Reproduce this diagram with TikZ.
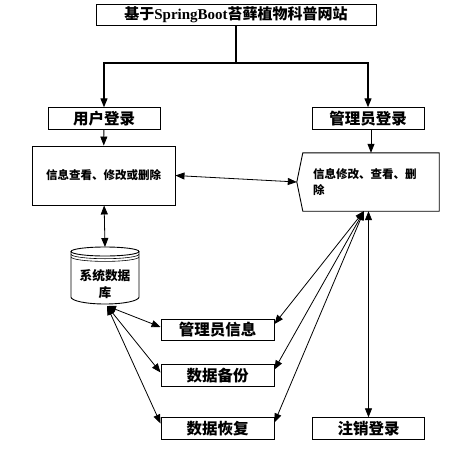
\documentclass[tikz,border=0pt]{standalone}
\usepackage{fontspec}
\setmainfont{Liberation Serif}
\newfontfamily\cjk{Noto Sans CJK SC}
\usetikzlibrary{arrows.meta}
\tikzset{
    boxline/.style={draw, line width=0.9pt},
    titlebox/.style={boxline, minimum width=280pt, minimum height=21pt, inner sep=0pt,
            font=\cjk\bfseries\fontsize{15pt}{17pt}\selectfont},
    smallbox/.style={boxline, minimum width=113pt, minimum height=21.5pt, inner sep=0pt,
            font=\cjk\bfseries\fontsize{15.5pt}{17pt}\selectfont},
    infotext/.style={font=\cjk\bfseries\fontsize{11.5pt}{16pt}\selectfont},
    tree/.style={line width=1.2pt, -{Triangle[length=9pt,width=7pt]}},
    link/.style={line width=0.8pt, {Triangle[length=9pt,width=7pt]}-{Triangle[length=9pt,width=7pt]}},
}
\begin{document}
\begin{tikzpicture}[x=1pt, y=-1pt]
        \useasboundingbox (0,0) rectangle (466,453);
        %draw title and the two logins
        \node[titlebox] (title) at (236,14.5) {基于{\rmfamily SpringBoot}苔藓植物科普网站};
        \node[smallbox, minimum width=112pt] (user) at (104,118.5) {用户登录};
        \node[smallbox, minimum width=112pt] (admin) at (368,118.5) {管理员登录};
        \coordinate (split) at (236,63);
        %draw the info boxes
        \node[boxline, infotext, minimum width=143pt, minimum height=59pt] (userinfo) at (103.5,175.5) {信息查看、修改或删除};
        \node[infotext, minimum width=136pt, minimum height=58pt, text width=116pt, align=left] (admininfo) at (371,182) {信息修改、查看、删\\除};
        \coordinate (apex) at ([xshift=-6pt]admininfo.west);
        \draw[line width=0.9pt] (admininfo.north west) -- (admininfo.north east) -- (admininfo.south east)
            -- (admininfo.south west) -- (apex) -- cycle;
        %draw database
        \draw[line width=0.9pt] (71,251.5) -- (71,297) arc[start angle=180, end angle=0, x radius=34, y radius=7] -- (139,251.5);
        \draw[line width=0.9pt] (105,251.5) ellipse[x radius=34, y radius=4.5];
        \draw[line width=0.6pt] (71,254.2) arc[start angle=180, end angle=0, x radius=34, y radius=4.5];
        \draw[line width=0.6pt] (71,256.9) arc[start angle=180, end angle=0, x radius=34, y radius=4.5];
        \node[align=center, font=\cjk\bfseries\fontsize{12.7pt}{17pt}\selectfont] (db) at (105,284.5) {系统数据\\库};
        \coordinate (dbtop) at (105,247);
        \coordinate (dbbot) at (107,306);
        %draw bottom boxes
        \node[smallbox] (mgrinfo) at (217.5,330) {管理员信息};
        \node[smallbox] (backup) at (217.5,375.5) {数据备份};
        \node[smallbox] (restore) at (217.5,428.5) {数据恢复};
        \node[smallbox, minimum width=112pt] (logout) at (368.5,428.5) {注销登录};
        %draw connectors
        \draw[line width=1.2pt] (title.south) -- (split);
        \draw[tree] (split) -| (user);
        \draw[tree] (split) -| (admin);
        \draw[line width=0.8pt, -{Triangle[length=9pt,width=7pt]}] (user) -- (userinfo);
        \draw[line width=0.8pt, -{Triangle[length=9pt,width=7pt]}] (admin.south -| admininfo.north) -- (admininfo.north);
        \draw[link] (userinfo.east) -- (apex);
        \draw[link] (userinfo) -- (dbtop);
        \draw[link] (dbbot) -- ([yshift=3pt]mgrinfo.west);
        \draw[link] (dbbot) -- ([yshift=3pt]backup.west);
        \draw[link] (dbbot) -- ([yshift=5pt]restore.west);
        \coordinate (conv) at (364,211);
        \draw[link] (conv) -- ([yshift=6pt]mgrinfo.east);
        \draw[link] (conv) -- ([yshift=6pt]backup.east);
        \draw[link] (conv) -- ([yshift=6pt]restore.east);
        \draw[link] (logout.north |- admininfo.south) -- (logout);
    \end{tikzpicture}
\end{document}
